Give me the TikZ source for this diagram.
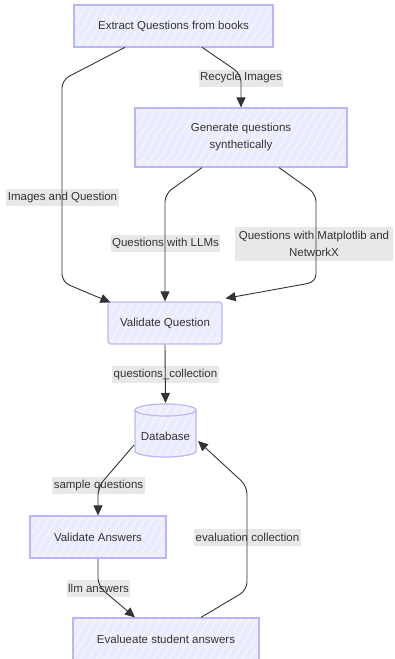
\documentclass[tikz,border=0pt]{standalone}
\usepackage{fontspec}
\setmainfont{Liberation Sans}
\usetikzlibrary{arrows.meta,patterns.meta}
\definecolor{boxfill}{HTML}{ECECFF}
\definecolor{boxdraw}{HTML}{B8B8F8}
\definecolor{ink}{HTML}{333333}
\definecolor{lblbg}{HTML}{E8E8E8}
\begin{document}
\begin{tikzpicture}[x=1pt,y=-1pt,
  txt/.style={text=ink, font=\fontsize{11.5}{17}\selectfont},
  box/.style={txt, draw=boxdraw, line width=1.2pt, preaction={fill=boxfill},
    pattern={Lines[angle=60,distance=7pt,line width=0.5pt]}, pattern color=white,
    align=center, inner sep=0pt},
  lbl/.style={txt, fill=lblbg, inner xsep=1.5pt, inner ysep=0pt, minimum height=17pt, align=center},
  edge/.style={draw=ink, line width=0.9pt, rounded corners=8pt, -{Triangle[length=10pt,width=9pt]}}]
\useasboundingbox (0,0) rectangle (394,659);

% nodes
\node[box, minimum width=199pt, minimum height=42pt] (ext) at (173.5,26) {Extract Questions from books};
\node[box, minimum width=212pt, minimum height=59pt] (gen) at (241,137.5) {Generate questions\\synthetically};
\node[box, rounded corners=3pt, minimum width=114pt, minimum height=42pt] (vq) at (165,323) {Validate Question};
\node[box, minimum width=136pt, minimum height=42pt] (va) at (98,537) {Validate Answers};
\node[box, minimum width=186pt, minimum height=42pt] (ev) at (166,639) {Evalueate student answers};

% database cylinder
\path[draw=boxdraw, line width=1.2pt, preaction={fill=boxfill},
    pattern={Lines[angle=60,distance=7pt,line width=0.5pt]}, pattern color=white]
  (135,410) -- (135,451) arc[start angle=180, end angle=360, x radius=30.5pt, y radius=6pt]
  -- (196,410) arc[start angle=0, end angle=180, x radius=30.5pt, y radius=6pt] -- cycle;
\draw[boxdraw, line width=1.2pt] (135,410) arc[start angle=180, end angle=360, x radius=30.5pt, y radius=6pt];
\node[txt, inner sep=0pt, minimum width=61pt, minimum height=53pt] (db) at (165.5,432) {};
\node[txt] (dbt) at (165.5,436) {Database};
\coordinate (dbtop) at (165.5,403);
\coordinate (dbl) at (134,445);
\coordinate (dbr) at (198,441);

% edge labels
\node[lbl] (l1) at (62.5,197.5) {Images and Question};
\node[lbl] (l2) at (241,78) {Recycle Images};
\node[lbl] (l3) at (165.5,243.5) {Questions with LLMs};
\node[lbl, minimum width=158pt, minimum height=34pt] (l4) at (314,244) {Questions with Matplotlib and\\NetworkX};
\node[lbl] (l5) at (165.5,374.5) {questions\_collection};
\node[lbl] (l6) at (98.5,485.5) {sample questions};
\node[lbl] (l7) at (98.5,588.5) {llm answers};
\node[lbl] (l8) at (247.5,537.5) {evaluation collection};

% edges
\draw[edge] ([xshift=-48.5pt]ext.south) -- (62,80) -- (62,282) -- ([xshift=3pt,yshift=-1pt]vq.north west);
\draw[edge] ([xshift=28.5pt]ext.south) -- (241,74) -- (gen.north);
\draw[edge] ([xshift=-39pt]gen.south) -- (165,194) -- (vq.north);
\draw[edge] ([xshift=38pt]gen.south) -- (316,194) -- (316,282) -- ([xshift=3pt,yshift=3pt]vq.north east);
\draw[edge] (vq.south) -- (dbtop);
\draw[edge] (dbl) -- (98,487) -- (va.north);
\draw[edge] (va.south) -- (98,586) -- ([xshift=-31pt]ev.north);
\draw[edge] ([xshift=35pt]ev.north) -- (247,590) -- (247,486) -- (dbr);
\end{tikzpicture}
\end{document}
